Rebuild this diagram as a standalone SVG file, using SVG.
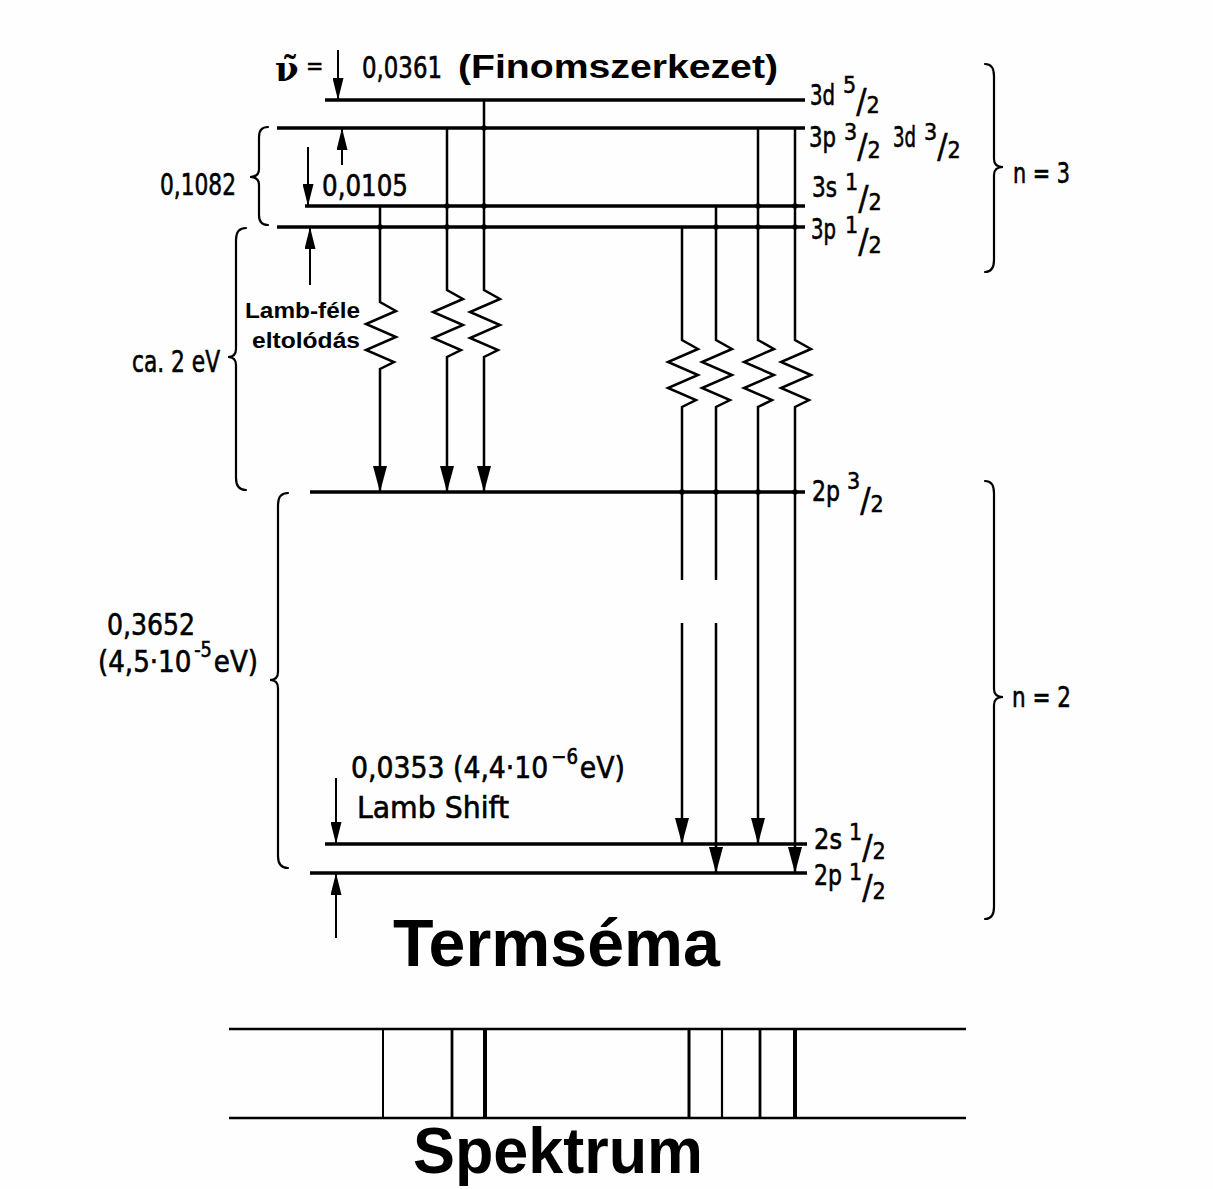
<svg xmlns="http://www.w3.org/2000/svg" width="1213" height="1189" viewBox="0 0 1213 1189">
<style>
.bg{fill:#fdfefd}
.lv{stroke:#000;stroke-width:3.4;fill:none}
.tr{stroke:#000;stroke-width:2.5;fill:none}
.ar{stroke:#000;stroke-width:2;fill:none}
.br{stroke:#000;stroke-width:2.2;fill:none;stroke-linecap:round}
.sp{stroke:#000;fill:none}
.d{font-family:"DejaVu Sans Condensed","DejaVu Sans","Liberation Sans",sans-serif;font-stretch:condensed;fill:#000;stroke:#000;stroke-width:0.6px;font-size:29px}
.n{font-family:"DejaVu Sans Condensed","DejaVu Sans","Liberation Sans",sans-serif;font-stretch:condensed;fill:#000;stroke:#000;stroke-width:0.6px;font-size:31px}
.f{font-family:"DejaVu Sans Condensed","DejaVu Sans","Liberation Sans",sans-serif;font-stretch:condensed;fill:#000;stroke:#000;stroke-width:0.5px;font-size:23px}
.sl{font-size:34px}
.sup{font-size:21px}
.b{font-family:"Liberation Sans",Arial,sans-serif;font-weight:bold;fill:#000}
.dot{fill:#000}
</style>
<defs>
<marker id="ah" markerUnits="userSpaceOnUse" viewBox="0 0 26 14" refX="26" refY="7" markerWidth="26" markerHeight="14" orient="auto"><path d="M0,0 L26,7 L0,14 z" fill="#000"/></marker>
<marker id="sa" markerUnits="userSpaceOnUse" viewBox="0 0 22 11" refX="22" refY="5.5" markerWidth="22" markerHeight="11" orient="auto"><path d="M0,0 L22,5.5 L0,11 z" fill="#000"/></marker>
</defs>
<rect class="bg" x="0" y="0" width="1213" height="1189"/>

<g id="levels">
<g id="lvl-3d52"><line class="lv" x1="325" y1="100" x2="805" y2="100"/>
<text class="d" x="810" y="105" textLength="25" lengthAdjust="spacingAndGlyphs">3d</text>
<text class="f" x="843" y="93">5<tspan class="sl" dy="20">/</tspan><tspan>2</tspan></text></g>

<g id="lvl-3p32"><line class="lv" x1="277" y1="128" x2="805" y2="128"/>
<text class="d" x="809" y="147" textLength="27" lengthAdjust="spacingAndGlyphs">3p</text>
<text class="f" x="844" y="140">3<tspan class="sl" dy="18">/</tspan><tspan>2</tspan></text>
<text class="d" x="893" y="147" textLength="23" lengthAdjust="spacingAndGlyphs">3d</text>
<text class="f" x="924" y="140">3<tspan class="sl" dy="18">/</tspan><tspan>2</tspan></text></g>

<g id="lvl-3s12"><line class="lv" x1="305" y1="206" x2="805" y2="206"/>
<text class="d" x="812" y="197" textLength="25" lengthAdjust="spacingAndGlyphs">3s</text>
<text class="f" x="845" y="190">1<tspan class="sl" dy="20">/</tspan><tspan>2</tspan></text></g>

<g id="lvl-3p12"><line class="lv" x1="277" y1="227" x2="805" y2="227"/>
<text class="d" x="811" y="239" textLength="25" lengthAdjust="spacingAndGlyphs">3p</text>
<text class="f" x="845" y="233">1<tspan class="sl" dy="20">/</tspan><tspan>2</tspan></text></g>

<g id="lvl-2p32"><line class="lv" x1="310" y1="492" x2="805" y2="492"/>
<text class="d" x="812" y="501" textLength="28" lengthAdjust="spacingAndGlyphs">2p</text>
<text class="f" x="847" y="489">3<tspan class="sl" dy="23">/</tspan><tspan>2</tspan></text></g>

<g id="lvl-2s12"><line class="lv" x1="325" y1="844" x2="807" y2="844"/>
<text class="d" x="814" y="849" textLength="28" lengthAdjust="spacingAndGlyphs">2s</text>
<text class="f" x="849" y="840">1<tspan class="sl" dy="19">/</tspan><tspan>2</tspan></text></g>

<g id="lvl-2p12"><line class="lv" x1="310" y1="873" x2="807" y2="873"/>
<text class="d" x="814" y="885" textLength="28" lengthAdjust="spacingAndGlyphs">2p</text>
<text class="f" x="849" y="880">1<tspan class="sl" dy="19">/</tspan><tspan>2</tspan></text></g>
</g>

<g id="connectors">
<path class="tr" marker-end="url(#ah)" d="M380,206 V302 l16,9 l-30,13 l30,13 l-30,13 l28,12 l-14,7 V492"/>
<path class="tr" marker-end="url(#ah)" d="M447,128 V290 l16,9 l-30,13 l30,13 l-30,13 l28,12 l-14,7 V492"/>
<path class="tr" marker-end="url(#ah)" d="M484,100 V290 l16,9 l-30,13 l30,13 l-30,13 l28,12 l-14,7 V492"/>
<path class="tr" marker-end="url(#ah)" d="M682,227 V340 l16,9 l-30,13 l30,13 l-30,13 l28,12 l-14,7 V580 M682,623 V844"/>
<path class="tr" marker-end="url(#ah)" d="M716,206 V340 l16,9 l-30,13 l30,13 l-30,13 l28,12 l-14,7 V580 M716,623 V873"/>
<path class="tr" marker-end="url(#ah)" d="M758,128 V340 l16,9 l-30,13 l30,13 l-30,13 l28,12 l-14,7 V844"/>
<path class="tr" marker-end="url(#ah)" d="M795,128 V340 l16,9 l-30,13 l30,13 l-30,13 l28,12 l-14,7 V873"/>
<g class="dot">
<circle cx="380" cy="227" r="2.8"/><circle cx="447" cy="206" r="2.8"/><circle cx="447" cy="227" r="2.8"/>
<circle cx="484" cy="128" r="2.8"/><circle cx="484" cy="206" r="2.8"/><circle cx="484" cy="227" r="2.8"/>
<circle cx="716" cy="227" r="2.8"/><circle cx="758" cy="206" r="2.8"/><circle cx="758" cy="227" r="2.8"/>
<circle cx="795" cy="206" r="2.8"/><circle cx="795" cy="227" r="2.8"/>
<circle cx="682" cy="492" r="2.8"/><circle cx="716" cy="492" r="2.8"/><circle cx="758" cy="492" r="2.8"/><circle cx="795" cy="492" r="2.8"/>
</g>
<path class="ar" marker-end="url(#sa)" d="M338,50 V100"/>
<path class="ar" marker-end="url(#sa)" d="M342,165 V128"/>
<path class="ar" marker-end="url(#sa)" d="M308,147 V206"/>
<path class="ar" marker-end="url(#sa)" d="M310,285 V227"/>
<path class="ar" marker-end="url(#sa)" d="M336,778 V844"/>
<path class="ar" marker-end="url(#sa)" d="M336,938 V873"/>
</g>

<g id="braces">
<path class="br" d="M268,127 Q259,127 259,137 L259,169 Q259,177 250,177 Q259,177 259,185 L259,215 Q259,225 268,225"/>
<path class="br" d="M246,228 Q236,228 236,240 L236,349 Q236,357 228,357 Q236,357 236,365 L236,478 Q236,490 246,490"/>
<path class="br" d="M288,493 Q278,493 278,505 L278,672 Q278,680 270,680 Q278,680 278,688 L278,856 Q278,868 288,868"/>
<path class="br" d="M985,64 Q994,64 994,76 L994,159 Q994,167 1003,167 Q994,167 994,175 L994,260 Q994,272 985,272"/>
<path class="br" d="M985,481 Q994,481 994,493 L994,689 Q994,697 1003,697 Q994,697 994,705 L994,907 Q994,919 985,919"/>
</g>

<g id="annotations">
<text x="275" y="81" style="font-family:'DejaVu Serif',serif;font-weight:bold;font-size:34px">ν̃</text>
<text class="f" x="306" y="74">=</text>
<text class="n" x="362" y="78" textLength="80" lengthAdjust="spacingAndGlyphs">0,0361</text>
<text class="b" x="458" y="78" font-size="34" textLength="320" lengthAdjust="spacingAndGlyphs">(Finomszerkezet)</text>
<text class="n" x="322" y="196" textLength="86" lengthAdjust="spacingAndGlyphs">0,0105</text>
<text class="n" x="160" y="195" textLength="76" lengthAdjust="spacingAndGlyphs">0,1082</text>
<text class="n" x="132" y="372" textLength="88" lengthAdjust="spacingAndGlyphs">ca. 2 eV</text>
<text class="b" x="245" y="318" font-size="22" textLength="115" lengthAdjust="spacingAndGlyphs">Lamb-féle</text>
<text class="b" x="252" y="348" font-size="22" textLength="108" lengthAdjust="spacingAndGlyphs">eltolódás</text>
<text class="n" x="107" y="635" textLength="88" lengthAdjust="spacingAndGlyphs">0,3652</text>
<text class="n" x="98" y="672" textLength="160" lengthAdjust="spacingAndGlyphs">(4,5·10<tspan class="sup" dx="3" dy="-15">-5</tspan><tspan dx="2" dy="15">eV)</tspan></text>
<text class="n" x="351" y="778" textLength="274" lengthAdjust="spacingAndGlyphs">0,0353 (4,4·10<tspan class="sup" dx="3" dy="-14">−6</tspan><tspan dx="2" dy="14">eV)</tspan></text>
<text class="n" x="357" y="818" textLength="152" lengthAdjust="spacingAndGlyphs">Lamb Shift</text>
<text class="d" x="1013" y="183" textLength="57" lengthAdjust="spacingAndGlyphs">n = 3</text>
<text class="d" x="1012" y="707" textLength="59" lengthAdjust="spacingAndGlyphs">n = 2</text>
<text class="b" x="393" y="966" font-size="66" textLength="327" lengthAdjust="spacingAndGlyphs">Termséma</text>
</g>

<g id="spectrum">
<line class="sp" stroke-width="2.5" x1="229" y1="1029" x2="966" y2="1029"/>
<line class="sp" stroke-width="2.5" x1="229" y1="1118" x2="966" y2="1118"/>
<line class="sp" stroke-width="2" x1="383" y1="1029" x2="383" y2="1118"/>
<line class="sp" stroke-width="2.8" x1="452" y1="1029" x2="452" y2="1118"/>
<line class="sp" stroke-width="4" x1="485" y1="1029" x2="485" y2="1118"/>
<line class="sp" stroke-width="3" x1="689" y1="1029" x2="689" y2="1118"/>
<line class="sp" stroke-width="2.2" x1="722" y1="1029" x2="722" y2="1118"/>
<line class="sp" stroke-width="2.8" x1="760" y1="1029" x2="760" y2="1118"/>
<line class="sp" stroke-width="4" x1="795" y1="1029" x2="795" y2="1118"/>
<text class="b" x="413" y="1173" font-size="64" textLength="290" lengthAdjust="spacingAndGlyphs">Spektrum</text>
</g>
</svg>
